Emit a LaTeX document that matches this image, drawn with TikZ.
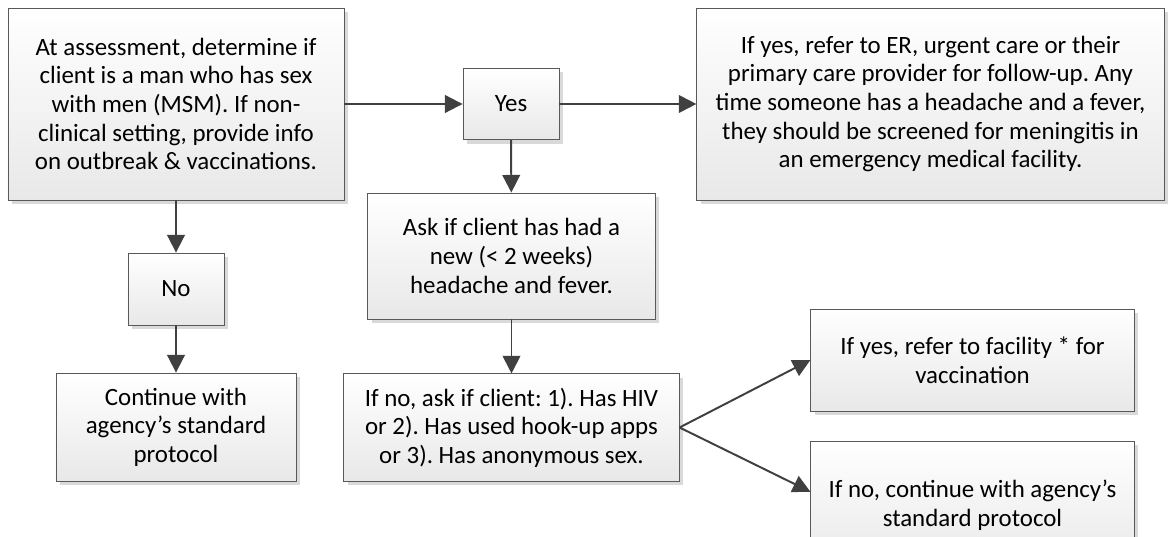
\documentclass[tikz,border=0pt]{standalone}
\usepackage{fontspec}
\setmainfont{Carlito}
\usepackage{tikz}
\usetikzlibrary{arrows.meta,shadows}
\frenchspacing

\begin{document}
\begin{tikzpicture}[
  x=0.025cm,y=-0.025cm,
  flowbox/.style={rectangle,draw=black!65,line width=0.6pt,top color=white,bottom color=black!9,
    drop shadow={shadow xshift=0.1cm,shadow yshift=-0.1cm,fill=black!15,opacity=1},
    align=center,inner sep=0pt,font=\fontsize{17.7}{20.3}\selectfont},
  link/.style={draw=black!75,line width=1.4pt,-{Triangle[length=12.5pt,width=12.5pt]}}
]

\useasboundingbox (0,0) rectangle (1171,537);

% left column
\node[flowbox,minimum width=8.4cm,minimum height=4.8cm] (assess) at (176,104)
  {At assessment, determine if\\client is a man who has sex\\with men (MSM). If non-\\clinical setting, provide info\\on outbreak \& vaccinations.};
\node[flowbox,minimum width=2.4cm,minimum height=1.8cm] (no) at (176,289) {No};
\node[flowbox,minimum width=6cm,minimum height=2.7cm] (cont) at (176,427)
  {Continue with\\agency’s standard\\protocol};

% middle column
\node[flowbox,minimum width=2.4cm,minimum height=1.78cm] (yes) at (511,104) {Yes};
\node[flowbox,minimum width=7.18cm,minimum height=3.15cm] (ask) at (511.5,256)
  {Ask if client has had a\\new (< 2 weeks)\\headache and fever.};
\node[flowbox,minimum width=8.38cm,minimum height=2.68cm] (hook) at (511.5,427.5)
  {If no, ask if client: 1). Has HIV\\or 2). Has used hook-up apps\\or 3). Has anonymous sex.};

% right column
\node[flowbox,minimum width=11.68cm,minimum height=4.8cm] (refer) at (930.5,104)
  {If yes, refer to ER, urgent care or their\\primary care provider for follow-up. Any\\time someone has a headache and a fever,\\they should be screened for meningitis in\\an emergency medical facility.};
\node[flowbox,minimum width=8.08cm,minimum height=2.55cm] (facil) at (972.5,360)
  {If yes, refer to facility * for\\vaccination};
\node[flowbox,minimum width=8.08cm,minimum height=3.2cm] (contb) at (972.5,505)
  {If no, continue with agency’s\\standard protocol};

\draw[link] (assess) -- (yes);
\draw[link] (yes) -- (refer);
\draw[link] (yes) -- (ask);
\draw[link] (ask) -- (hook);
\draw[link] (assess) -- (no);
\draw[link] (no) -- (cont);
\draw[link] (hook.east) -- (facil.west);
\draw[link] (hook.east) -- ([yshift=-1.28cm]contb.north west);

\end{tikzpicture}
\end{document}
